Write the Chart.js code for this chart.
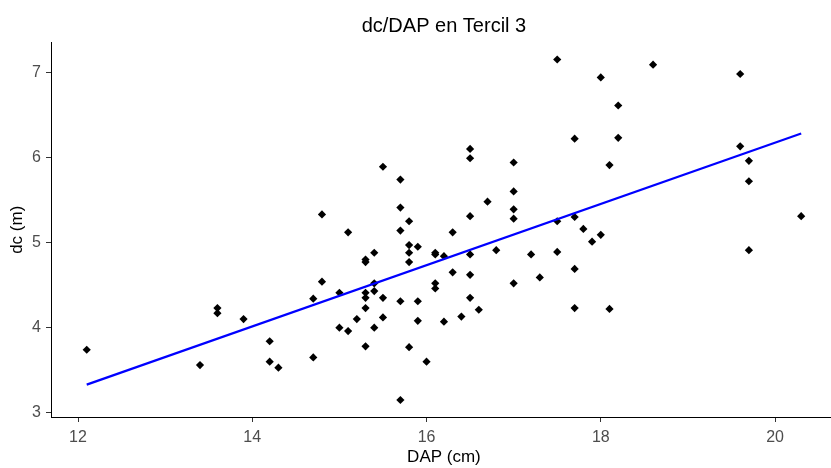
<!DOCTYPE html>
<html lang="es">
<head>
    <meta charset="UTF-8">
    <title>dc/DAP en Tercil 3</title>
    <script src="https://cdn.jsdelivr.net/npm/chart.js"></script>
    <style>
        html, body {
            margin: 0;
            padding: 0;
            overflow: hidden;
            background: #fff;
        }
        .chartContainer {
            width: 841px;
            height: 468px;
        }
    </style>
</head>
<body>
    <div class="chartContainer">
        <canvas id="dcChart" width="841" height="468"></canvas>
    </div>

    <script>
        // DAP (cm) and dc (m) for each tree of tercil 3
        const dap = [
            12.1, 13.4, 13.6, 13.6, 13.9, 14.2, 14.2, 14.3, 14.7, 14.7,
            14.8, 14.8, 15.0, 15.0, 15.1, 15.1, 15.2, 15.3, 15.3, 15.3,
            15.3, 15.3, 15.3, 15.4, 15.4, 15.4, 15.4, 15.5, 15.5, 15.5,
            15.7, 15.7, 15.7, 15.7, 15.7, 15.8, 15.8, 15.8, 15.8, 15.8,
            15.9, 15.9, 15.9, 16.0, 16.1, 16.1, 16.1, 16.1, 16.2, 16.2,
            16.3, 16.3, 16.4, 16.5, 16.5, 16.5, 16.5, 16.5, 16.5, 16.6,
            16.7, 16.8, 17.0, 17.0, 17.0, 17.0, 17.0, 17.2, 17.3, 17.5,
            17.5, 17.5, 17.7, 17.7, 17.7, 17.7, 17.8, 17.9, 18.0, 18.0,
            18.1, 18.1, 18.2, 18.2, 18.6, 19.6, 19.6, 19.7, 19.7, 19.7,
            20.3
        ];
        const dc = [
            3.74, 3.56, 4.23, 4.17, 4.10, 3.84, 3.60, 3.53, 4.34, 3.65,
            5.33, 4.54, 4.41, 4.00, 5.12, 3.96, 4.10, 4.80, 4.77, 4.41,
            4.35, 4.23, 3.78, 4.88, 4.52, 4.43, 4.00, 5.89, 4.35, 4.12,
            5.74, 5.41, 5.14, 4.31, 3.15, 5.25, 4.97, 4.88, 4.77, 3.77,
            4.95, 4.31, 4.08, 3.60, 4.88, 4.86, 4.52, 4.46, 4.84, 4.07,
            5.12, 4.65, 4.13, 6.10, 5.99, 5.31, 4.86, 4.62, 4.35, 4.21,
            5.48, 4.91, 5.94, 5.60, 5.39, 5.28, 4.52, 4.86, 4.59, 7.15,
            5.25, 4.89, 6.22, 5.30, 4.69, 4.23, 5.16, 5.01, 6.94, 5.09,
            5.91, 4.22, 6.61, 6.23, 7.09, 6.98, 6.13, 5.96, 5.72, 4.91,
            5.31
        ];

        // ends of the fitted straight line
        const fitDap = [12.1, 20.3];
        const fitDc = [3.33, 6.28];

        const xTicks = [12, 14, 16, 18, 20];
        const yTicks = [3, 4, 5, 6, 7];

        const tickFont = { family: "'Liberation Sans', Arial, sans-serif", size: 16 };
        const titleFont = { family: "'Liberation Sans', Arial, sans-serif", size: 17 };

        const points = dap.map((x, i) => ({ x: x, y: dc[i] }));
        const fitLine = fitDap.map((x, i) => ({ x: x, y: fitDc[i] }));

        const ctx = document.getElementById('dcChart').getContext('2d');
        new Chart(ctx, {
            type: 'scatter',
            data: {
                datasets: [
                    {
                        type: 'line',
                        data: fitLine,
                        borderColor: '#0000ff',
                        borderWidth: 2.2,
                        pointRadius: 0,
                        fill: false,
                        order: 0
                    },
                    {
                        data: points,
                        pointStyle: 'rectRot',
                        pointRadius: 4.1,
                        backgroundColor: '#000',
                        borderWidth: 0,
                        order: 1
                    }
                ]
            },
            options: {
                responsive: false,
                animation: false,
                events: [],
                layout: { padding: 0 },
                plugins: {
                    legend: { display: false },
                    tooltip: { enabled: false },
                    title: {
                        display: true,
                        text: 'dc/DAP en Tercil 3',
                        color: '#000',
                        fullSize: false,
                        font: { family: "'Liberation Sans', Arial, sans-serif", size: 20, weight: 'normal' },
                        padding: { top: 14.4, bottom: 4.1 }
                    }
                },
                scales: {
                    x: {
                        type: 'linear',
                        min: 11.69,
                        max: 20.71,
                        afterBuildTicks: s => { s.ticks = xTicks.map(v => ({ value: v })); },
                        afterFit: s => { s.height = 51; },
                        grid: { drawOnChartArea: false, drawTicks: true, tickLength: 5, tickColor: '#333' },
                        border: { display: true, color: '#000', width: 1 },
                        ticks: { color: '#4d4d4d', font: tickFont, padding: 6, maxRotation: 0 },
                        title: { display: true, text: 'DAP (cm)', color: '#000', font: titleFont, padding: { top: 0, bottom: 0 } }
                    },
                    y: {
                        type: 'linear',
                        min: 2.95,
                        max: 7.35,
                        afterBuildTicks: s => { s.ticks = yTicks.map(v => ({ value: v })); },
                        afterFit: s => { s.width = 51; },
                        grid: { drawOnChartArea: false, drawTicks: true, tickLength: 5, tickColor: '#333' },
                        border: { display: true, color: '#000', width: 1 },
                        ticks: { color: '#4d4d4d', font: tickFont, padding: 5 },
                        title: { display: true, text: 'dc (m)', color: '#000', font: titleFont, padding: { top: 7, bottom: 0 } }
                    }
                }
            }
        });
    </script>
</body>
</html>
